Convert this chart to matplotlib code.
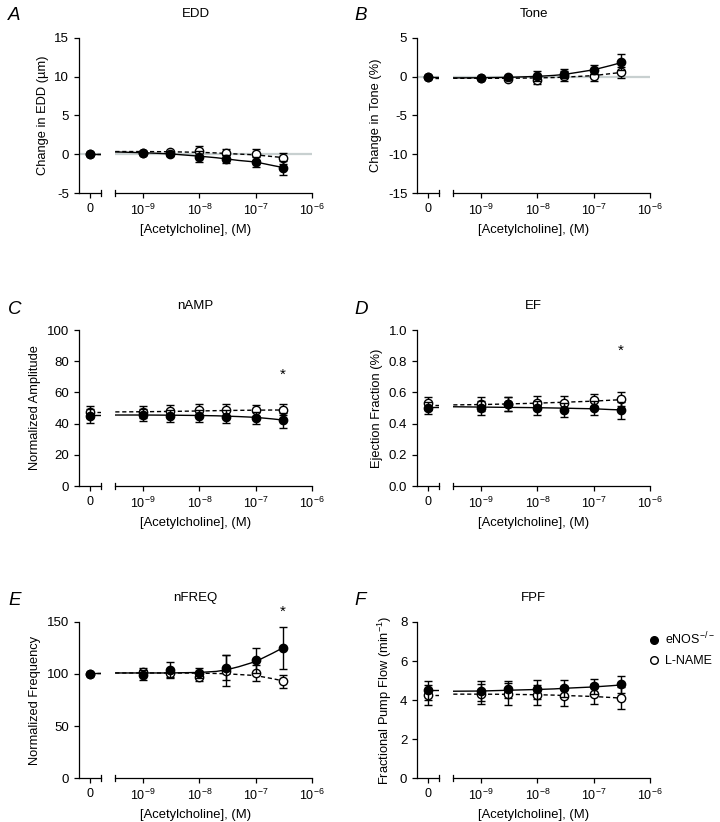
import numpy as np
import matplotlib.pyplot as plt
from matplotlib.lines import Line2D

plt.rcParams['font.family'] = ['Liberation Sans', 'DejaVu Sans']
plt.rcParams['mathtext.fontset'] = 'custom'
plt.rcParams['mathtext.rm'] = 'Liberation Sans'
plt.rcParams['mathtext.it'] = 'Liberation Sans:italic'
plt.rcParams['axes.unicode_minus'] = False
plt.rcParams['axes.linewidth'] = 0.9
plt.rcParams['xtick.major.width'] = 0.9
plt.rcParams['ytick.major.width'] = 0.9
plt.rcParams['xtick.major.size'] = 3.5
plt.rcParams['ytick.major.size'] = 3.5
plt.rcParams['xtick.labelsize'] = 9
plt.rcParams['ytick.labelsize'] = 9.5

# acetylcholine concentrations (M); the 0 M baseline is the first value of each series
conc = [1e-9, 3e-9, 1e-8, 3e-8, 1e-7, 3e-7]
# concentrations at which the fitted curves were read; first fit value = 0 M segment
fit_conc = [3.2e-10, 1e-9, 3e-9, 1e-8, 2e-8, 3e-8, 5e-8, 1e-7, 2e-7, 3e-7]

# A  EDD
edd_enos = [0.0, 0.2, 0.0, -0.3, -0.6, -1.0, -1.8]
edd_enos_err = [0.0, 0.15, 0.2, 0.7, 0.5, 0.6, 0.9]
edd_enos_fit = [0.0, 0.3, 0.2, 0.05, -0.25, -0.45, -0.6, -0.8, -1.0, -1.45, -1.7]
edd_lname = [0.0, 0.15, 0.3, 0.4, 0.1, 0.0, -0.5]
edd_lname_err = [0.0, 0.1, 0.15, 0.6, 0.6, 0.7, 0.7]
edd_lname_fit = [0.0, 0.35, 0.35, 0.32, 0.25, 0.17, 0.1, 0.02, -0.08, -0.3, -0.42]

# B  Tone
tone_enos = [0.0, -0.2, 0.0, 0.1, 0.4, 0.9, 1.9]
tone_enos_err = [0.0, 0.1, 0.15, 0.7, 0.6, 0.6, 1.0]
tone_enos_fit = [0.0, -0.15, -0.13, -0.08, 0.05, 0.18, 0.3, 0.55, 0.9, 1.45, 1.8]
tone_lname = [0.0, -0.2, -0.3, -0.4, 0.1, 0.1, 0.6]
tone_lname_err = [0.0, 0.1, 0.15, 0.5, 0.7, 0.7, 0.7]
tone_lname_fit = [-0.1, -0.2, -0.2, -0.2, -0.15, -0.1, -0.05, 0.03, 0.15, 0.4, 0.55]

# C  nAMP
amp_enos = [45.0, 45.5, 45.0, 45.0, 44.5, 43.5, 42.0]
amp_enos_err = [4.5, 4.0, 4.0, 4.0, 4.0, 4.0, 4.5]
amp_enos_fit = [45.5, 45.5, 45.5, 45.4, 45.2, 45.0, 44.8, 44.5, 44.0, 43.0, 42.3]
amp_lname = [47.5, 47.5, 48.0, 48.5, 48.5, 48.5, 49.0]
amp_lname_err = [4.0, 4.0, 4.0, 4.0, 4.0, 3.5, 3.5]
amp_lname_fit = [47.5, 47.5, 47.6, 47.8, 48.1, 48.3, 48.4, 48.5, 48.6, 48.7, 48.7]

# D  EF
ef_enos = [0.50, 0.50, 0.525, 0.50, 0.485, 0.50, 0.485]
ef_enos_err = [0.04, 0.045, 0.045, 0.045, 0.045, 0.045, 0.055]
ef_enos_fit = [0.505, 0.508, 0.506, 0.504, 0.502, 0.50, 0.499, 0.497, 0.495, 0.49, 0.488]
ef_lname = [0.53, 0.525, 0.525, 0.535, 0.535, 0.55, 0.555]
ef_lname_err = [0.04, 0.045, 0.045, 0.04, 0.04, 0.04, 0.045]
ef_lname_fit = [0.52, 0.52, 0.522, 0.526, 0.531, 0.535, 0.537, 0.54, 0.544, 0.55, 0.553]

# E  nFREQ
freq_enos = [100.0, 99.0, 104.0, 101.0, 106.0, 113.0, 125.0]
freq_enos_err = [0.0, 5.0, 8.0, 5.0, 12.0, 12.0, 20.0]
freq_enos_fit = [101, 101, 101, 101, 101.5, 102.5, 104, 107, 112, 120, 125]
freq_lname = [100.0, 102.0, 101.0, 97.0, 103.0, 101.0, 93.0]
freq_lname_err = [0.0, 4.0, 4.0, 4.0, 15.0, 8.0, 6.0]
freq_lname_fit = [101, 101, 101, 101, 100.8, 100.5, 100.2, 99.5, 98.5, 95.5, 93.5]

# F  FPF
fpf_enos = [4.5, 4.45, 4.55, 4.55, 4.6, 4.7, 4.8]
fpf_enos_err = [0.5, 0.5, 0.45, 0.5, 0.45, 0.4, 0.45]
fpf_enos_fit = [4.5, 4.45, 4.46, 4.5, 4.54, 4.57, 4.6, 4.63, 4.67, 4.73, 4.77]
fpf_lname = [4.25, 4.3, 4.3, 4.25, 4.2, 4.3, 4.1]
fpf_lname_err = [0.5, 0.5, 0.55, 0.5, 0.5, 0.5, 0.55]
fpf_lname_fit = [4.25, 4.3, 4.3, 4.29, 4.27, 4.25, 4.23, 4.21, 4.18, 4.13, 4.1]

W, H = 720, 822
fig = plt.figure(figsize=(W / 100, H / 100), dpi=100)

col_x = [79, 417]
row_top = [38, 330, 622]
row_bot = [193, 486, 778]


def draw_series(az, al, mean, err, fit, filled, ls):
    fc = 'black' if filled else 'white'
    z = 4 if filled else 3
    az.axhline(fit[0], xmin=0.5, xmax=1, color='black', lw=1, ls=ls, zorder=2)
    al.plot(fit_conc, fit[1:], color='black', lw=1, ls=ls, zorder=2)
    az.errorbar([0], mean[:1], yerr=err[:1], fmt='none', ecolor='black',
                elinewidth=1, capsize=3, capthick=1, zorder=z)
    az.plot([0], mean[:1], 'o', ms=6, mfc=fc, mec='black', mew=1, zorder=z, clip_on=False)
    al.errorbar(conc, mean[1:], yerr=err[1:], fmt='none', ecolor='black',
                elinewidth=1, capsize=3, capthick=1, zorder=z)
    al.plot(conc, mean[1:], 'o', ms=6, mfc=fc, mec='black', mew=1, zorder=z, clip_on=False)


def panel(col, row, letter, title, ylabel, ylim, yticks, enos, enos_err, enos_fit,
          lname, lname_err, lname_fit, star=None, zero_line=False):
    x0 = col_x[col]
    b = 1 - row_bot[row] / H
    h = (row_bot[row] - row_top[row]) / H
    az = fig.add_axes([x0 / W, b, 22 / W, h])
    al = fig.add_axes([(x0 + 36) / W, b, 197 / W, h])

    for ax in (az, al):
        ax.set_ylim(*ylim)
        ax.spines['top'].set_visible(False)
        ax.spines['right'].set_visible(False)
        ax.patch.set_alpha(0)
        if zero_line:
            ax.axhline(0, color='#c8d0d0', lw=1.6, zorder=0)

    az.set_xlim(-1, 1)
    az.set_xticks([0])
    az.set_xticklabels(['0'])
    az.set_yticks(yticks)
    az.set_ylabel(ylabel, fontsize=9.3, labelpad=4)
    az.plot([1, 1], [-0.02, 0.02], color='black', lw=0.9, transform=az.transAxes, clip_on=False)

    al.set_xscale('log')
    al.set_xlim(10 ** -9.5, 1e-6)
    al.set_xticks([1e-9, 1e-8, 1e-7, 1e-6])
    al.set_xticklabels([r'$\mathregular{10^{-9}}$', r'$\mathregular{10^{-8}}$',
                        r'$\mathregular{10^{-7}}$', r'$\mathregular{10^{-6}}$'])
    al.xaxis.set_minor_locator(plt.NullLocator())
    al.spines['left'].set_visible(False)
    al.set_yticks([])
    al.plot([0, 0], [-0.02, 0.02], color='black', lw=0.9, transform=al.transAxes, clip_on=False)

    draw_series(az, al, lname, lname_err, lname_fit, False, (0, (3, 2)))
    draw_series(az, al, enos, enos_err, enos_fit, True, '-')

    if star is not None:
        al.text(conc[-1], star, '*', ha='center', va='center', fontsize=11)

    cx = (x0 + 233 / 2) / W
    fig.text(cx, 1 - (row_top[row] - 24) / H, title, ha='center', va='center', fontsize=9.5)
    fig.text(cx, 1 - (row_bot[row] + 37) / H, '[Acetylcholine], (M)', ha='center', va='center', fontsize=9.4)
    lx = [8, 354][col]
    ly = [15, 309, 600][row]
    fig.text(lx / W, 1 - ly / H, letter, ha='left', va='center', fontsize=13.5, style='italic')


panel(0, 0, 'A', 'EDD', 'Change in EDD (µm)', (-5, 15), [-5, 0, 5, 10, 15],
      edd_enos, edd_enos_err, edd_enos_fit, edd_lname, edd_lname_err, edd_lname_fit, zero_line=True)
panel(1, 0, 'B', 'Tone', 'Change in Tone (%)', (-15, 5), [-15, -10, -5, 0, 5],
      tone_enos, tone_enos_err, tone_enos_fit, tone_lname, tone_lname_err, tone_lname_fit, zero_line=True)
panel(0, 1, 'C', 'nAMP', 'Normalized Amplitude', (0, 100), [0, 20, 40, 60, 80, 100],
      amp_enos, amp_enos_err, amp_enos_fit, amp_lname, amp_lname_err, amp_lname_fit, star=71)
panel(1, 1, 'D', 'EF', 'Ejection Fraction (%)', (0, 1.0), [0.0, 0.2, 0.4, 0.6, 0.8, 1.0],
      ef_enos, ef_enos_err, ef_enos_fit, ef_lname, ef_lname_err, ef_lname_fit, star=0.865)
panel(0, 2, 'E', 'nFREQ', 'Normalized Frequency', (0, 150), [0, 50, 100, 150],
      freq_enos, freq_enos_err, freq_enos_fit, freq_lname, freq_lname_err, freq_lname_fit, star=160)
panel(1, 2, 'F', 'FPF', r'Fractional Pump Flow (min$^{-1}$)', (0, 8), [0, 2, 4, 6, 8],
      fpf_enos, fpf_enos_err, fpf_enos_fit, fpf_lname, fpf_lname_err, fpf_lname_fit)

handles = [Line2D([], [], ls='none', marker='o', ms=5.5, mfc='black', mec='black'),
           Line2D([], [], ls='none', marker='o', ms=5.5, mfc='white', mec='black')]
fig.legend(handles, [r'eNOS$^{-/-}$', 'L-NAME'], loc='upper left',
           bbox_to_anchor=(644 / W, 1 - 626 / H), frameon=False, fontsize=9,
           handlelength=0.8, handletextpad=0.5, labelspacing=0.6, borderaxespad=0)

fig.savefig('out.png', dpi=100)
